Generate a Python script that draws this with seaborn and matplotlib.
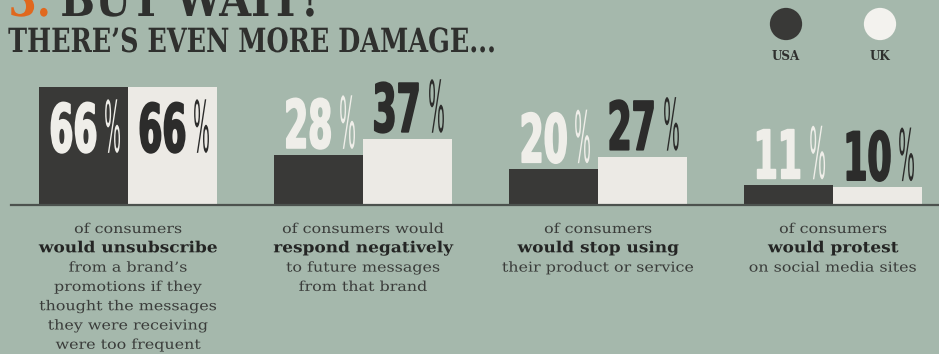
import matplotlib
matplotlib.use("Agg")
import matplotlib.pyplot as plt
import seaborn as sns
import pandas as pd
from matplotlib.patheffects import AbstractPathEffect
from matplotlib.transforms import Affine2D

# ---- data -------------------------------------------------------------
categories = ["unsubscribe", "respond negatively", "stop using", "protest"]
countries = ["USA", "UK"]
usa_values = [66, 28, 20, 11]
uk_values = [66, 37, 27, 10]

captions = [
    ["of consumers", "would unsubscribe", "from a brand\u2019s", "promotions if they",
     "thought the messages", "they were receiving", "were too frequent"],
    ["of consumers would", "respond negatively", "to future messages", "from that brand"],
    ["of consumers", "would stop using", "their product or service"],
    ["of consumers", "would protest", "on social media sites"],
]
caption_bold_line = [1, 1, 1, 1]

title_number = "3."
title_top = "BUT WAIT!"
title_bottom = "THERE\u2019S EVEN MORE DAMAGE..."

# ---- style ------------------------------------------------------------
BG = "#a5b8ac"
DARK = "#393937"
LIGHT = "#eceae5"
INK = "#2f302e"
ORANGE = "#e0681e"
LABEL_COLORS = {"USA": "#efeee9", "UK": "#2c2c2b"}

sns.set_theme(style="white")
plt.rcParams["font.family"] = ["DejaVu Sans"]


class Squeeze(AbstractPathEffect):
    """Rescale a text path horizontally about its left/centre/right edge,
    optionally thickening it with an outline in the fill colour."""

    def __init__(self, sx, anchor="left", stroke=0.0):
        super().__init__()
        self.sx = sx
        self.anchor = anchor
        self.stroke = stroke

    def draw_path(self, renderer, gc, tpath, affine, rgbFace=None):
        ext = tpath.get_extents()
        ref = {"left": ext.x0, "center": 0.5 * (ext.x0 + ext.x1), "right": ext.x1}[self.anchor]
        t = Affine2D().translate(-ref, 0).scale(self.sx, 1).translate(ref, 0) + affine
        gc0 = renderer.new_gc()
        gc0.copy_properties(gc)
        if self.stroke > 0 and rgbFace is not None:
            gc0.set_linewidth(self.stroke)
            gc0.set_foreground(rgbFace)
            gc0.set_joinstyle("round")
        renderer.draw_path(gc0, tpath, t, rgbFace)
        gc0.restore()


W, H = 939, 354
fig = plt.figure(figsize=(W / 100, H / 100), dpi=100, facecolor=BG)

# background layer in pixel units for headings and the key
bg = fig.add_axes([0, 0, 1, 1], zorder=0)
bg.set_xlim(0, W)
bg.set_ylim(H, 0)
bg.axis("off")

# ---- bars -------------------------------------------------------------
df = pd.DataFrame({
    "category": categories * 2,
    "country": ["USA"] * len(categories) + ["UK"] * len(categories),
    "value": usa_values + uk_values,
})

base_px = 205
ax = fig.add_axes([10.5 / W, (H - base_px) / H, 3.95 * 235 / W, 179 / H], zorder=1)
ax.patch.set_alpha(0)
sns.barplot(data=df, x="category", y="value", hue="country", hue_order=countries,
            order=categories, palette={"USA": DARK, "UK": LIGHT}, width=0.757,
            saturation=1, linewidth=0, gap=0, legend=False, ax=ax)
ax.set_xlim(-0.5, 3.45)
ax.set_ylim(0, 100)
ax.set_xticks([])
ax.set_yticks([])
ax.set_xlabel("")
ax.set_ylabel("")
for side in ["top", "left", "right"]:
    ax.spines[side].set_visible(False)
ax.spines["bottom"].set_color("#4c524e")
ax.spines["bottom"].set_linewidth(1.6)

# ---- value labels -----------------------------------------------------
DIGIT_PT = 48
PCT_PT = 51
DIGIT_H = 50          # pixel height of the numerals
DIGIT_SX = 0.52
PCT_SX = 0.25
renderer = fig.canvas.get_renderer()

for country, container in zip(countries, ax.containers):
    color = LABEL_COLORS[country]
    for bar in container:
        cx = bar.get_x() + bar.get_width() / 2
        val = bar.get_height()
        inside = val >= 50
        dy = -(15 + DIGIT_H) if inside else 7
        digits = ax.annotate(f"{val:.0f}", xy=(cx, val), xytext=(0, dy),
                             textcoords="offset pixels", ha="right", va="baseline",
                             fontsize=DIGIT_PT, fontweight="bold", color=color,
                             annotation_clip=False, zorder=5)
        digits.set_path_effects([Squeeze(DIGIT_SX, "right", stroke=1.3)])
        pct = ax.annotate("%", xy=(cx, val), xytext=(0, dy),
                          textcoords="offset pixels", ha="left", va="baseline",
                          fontsize=PCT_PT, fontweight="normal", color=color,
                          annotation_clip=False, zorder=5)
        pct.set_path_effects([Squeeze(PCT_SX, "left")])
        wd = digits.get_window_extent(renderer).width * DIGIT_SX
        wp = pct.get_window_extent(renderer).width * PCT_SX
        shift = (wd - wp) / 2
        digits.xyann = (shift, dy)
        pct.xyann = (shift + 2, dy)

# ---- captions under each group ---------------------------------------
for i, lines in enumerate(captions):
    for k, line in enumerate(lines):
        bold = k == caption_bold_line[i]
        cap = ax.annotate(line, xy=(i, 0), xytext=(0, -(24 + k * 19.3)),
                          textcoords="offset pixels", ha="center", va="center",
                          family="DejaVu Serif", fontsize=11 if bold else 9.8,
                          fontweight="bold" if bold else "normal",
                          color="#242524" if bold else "#3a3c3a",
                          annotation_clip=False)
        cap.set_path_effects([Squeeze(1.11 if bold else 1.17, "center")])

# ---- headings ---------------------------------------------------------
t = bg.text(8, 16, title_number, family="DejaVu Serif", fontweight="bold",
            fontsize=34, color=ORANGE, ha="left", va="baseline")
t.set_path_effects([Squeeze(0.86, "left")])
t = bg.text(60, 16, title_top, family="DejaVu Serif", fontweight="bold",
            fontsize=34, color=INK, ha="left", va="baseline")
t.set_path_effects([Squeeze(0.87, "left")])
t = bg.text(8, 52, title_bottom, family="DejaVu Serif", fontweight="bold",
            fontsize=24, color=INK, ha="left", va="baseline")
t.set_path_effects([Squeeze(0.765, "left")])

# ---- key --------------------------------------------------------------
key_x = [786, 880]
key_colors = [DARK, "#f3f2ee"]
bg.scatter(key_x, [24, 24], s=540, c=key_colors, linewidths=0, zorder=3)
for x, name in zip(key_x, countries):
    bg.text(x, 57, name, family="DejaVu Serif", fontweight="bold", fontsize=8.6,
            color=INK, ha="center", va="center")

fig.savefig("out.png", dpi=100, facecolor=BG)
